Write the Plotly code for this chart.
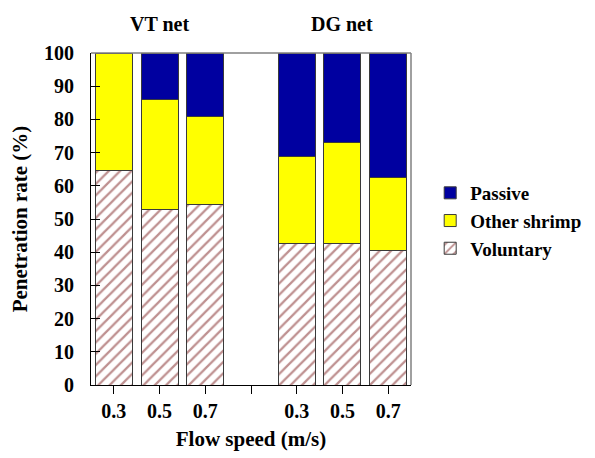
import plotly.graph_objects as go

categories = ["VT 0.3", "VT 0.5", "VT 0.7", "gap", "DG 0.3", "DG 0.5", "DG 0.7"]
tick_labels = ["0.3", "0.5", "0.7", "", "0.3", "0.5", "0.7"]
voluntary = [64.5, 53.0, 54.3, None, 42.7, 42.7, 40.5]
other_shrimp = [35.5, 32.9, 26.5, None, 26.1, 30.2, 22.0]
passive = [0.0, 14.1, 19.2, None, 31.2, 27.1, 37.5]

FONT = "Liberation Serif, Times New Roman, serif"
outline = dict(color="#3a3a3a", width=1)

fig = go.Figure()
fig.add_trace(go.Bar(
    x=categories, y=voluntary, name="Voluntary",
    marker=dict(color="white", line=outline,
                pattern=dict(shape="/", fgcolor="#7E2222", bgcolor="white",
                             size=8, solidity=0.28)),
))
fig.add_trace(go.Bar(
    x=categories, y=other_shrimp, name="Other shrimp",
    marker=dict(color="#FFFF00", line=outline),
))
fig.add_trace(go.Bar(
    x=categories, y=passive, name="Passive",
    marker=dict(color="#0000A0", line=outline),
))

fig.update_layout(
    barmode="stack",
    bargap=0.19,
    width=587, height=450,
    margin=dict(l=83, r=184, t=45, b=73, autoexpand=False),
    plot_bgcolor="white", paper_bgcolor="white",
    font=dict(family=FONT, size=18, color="black", weight="bold"),
    showlegend=True,
    legend=dict(traceorder="reversed", x=1.06, xanchor="left", y=0.494, yanchor="middle",
                font=dict(family=FONT, size=19, weight="bold"),
                itemwidth=30, tracegroupgap=0, bgcolor="rgba(0,0,0,0)"),
    xaxis=dict(
        type="category", categoryorder="array", categoryarray=categories,
        tickmode="array", tickvals=categories, ticktext=tick_labels,
        range=[-0.5, 6.5],
        showline=True, linecolor="black", linewidth=1,
        ticks="outside", ticklen=8, tickcolor="black",
        tickfont=dict(family=FONT, size=20, weight="bold"),
        title=dict(text="Flow speed (m/s)", standoff=10,
                   font=dict(family=FONT, size=21, weight="bold")),
        showgrid=False, zeroline=False,
    ),
    yaxis=dict(
        range=[0, 100], dtick=10,
        showline=True, linecolor="black", linewidth=1,
        ticks="inside", ticklen=9, tickcolor="black",
        ticklabelstandoff=12,
        tickfont=dict(family=FONT, size=20, weight="bold"),
        title=dict(text="Penetration rate (%)", standoff=10,
                   font=dict(family=FONT, size=21, weight="bold")),
        showgrid=False, zeroline=False,
    ),
    shapes=[
        dict(type="line", xref="paper", yref="paper", x0=0, x1=1, y0=1, y1=1,
             line=dict(color="#808080", width=1.5)),
        dict(type="line", xref="paper", yref="paper", x0=1, x1=1, y0=0, y1=1,
             line=dict(color="#808080", width=1.5)),
    ],
    annotations=[
        dict(text="VT net", xref="x", yref="paper", x="VT 0.5", y=1.088,
             showarrow=False, yanchor="middle",
             font=dict(family=FONT, size=20, weight="bold")),
        dict(text="DG net", xref="x", yref="paper", x="DG 0.5", y=1.088,
             showarrow=False, yanchor="middle",
             font=dict(family=FONT, size=20, weight="bold")),
    ],
)

fig.write_html("out.html")
